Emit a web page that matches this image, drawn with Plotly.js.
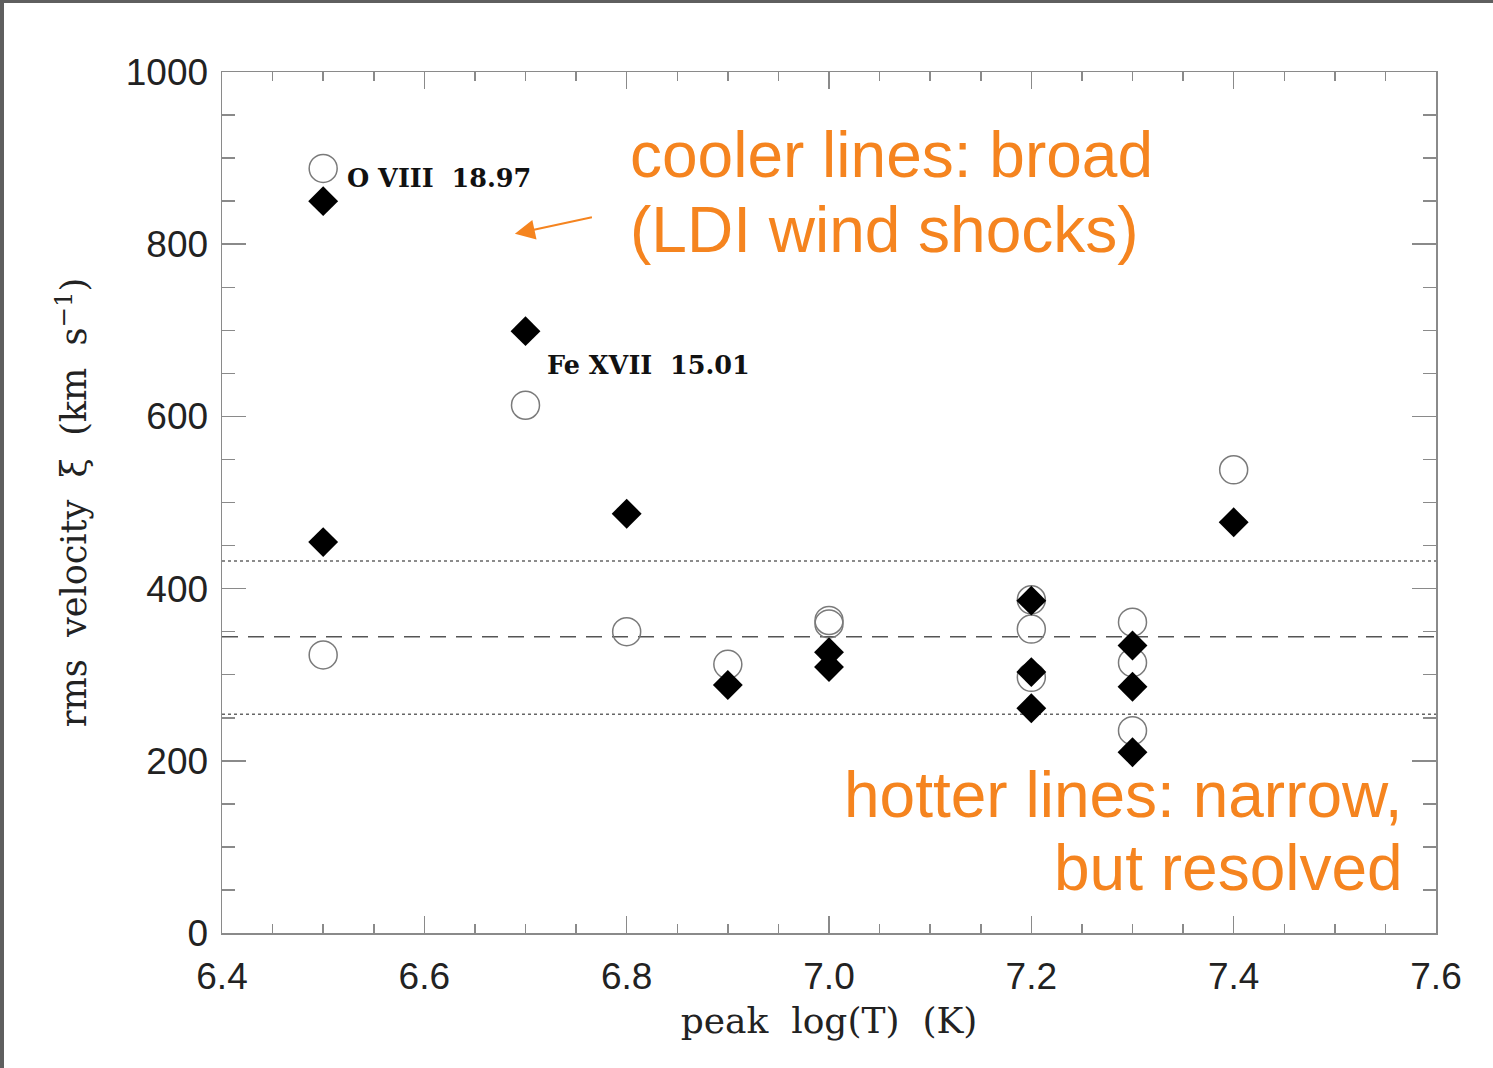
<!DOCTYPE html>
<html>
<head>
<meta charset="utf-8">
<script src="https://cdn.plot.ly/plotly-3.0.1.min.js"></script>
<style>
html,body{margin:0;padding:0;background:#fff;}
#wrap{position:relative;width:1493px;height:1068px;}
#chart{width:1493px;height:1068px;}
#frame{position:absolute;left:0;top:0;width:1493px;height:1068px;box-sizing:border-box;border-top:3px solid #5f5f5f;border-left:4px solid #5f5f5f;pointer-events:none;}
</style>
</head>
<body>
<div id="wrap"><div id="chart"></div><div id="frame"></div></div>
<script>
// Open circles
const circleT = [6.5, 6.5, 6.7, 6.8, 6.9, 7.0, 7.0, 7.2, 7.2, 7.2, 7.3, 7.3, 7.3, 7.4];
const circleV = [888, 323, 613, 350, 312, 363, 359, 387, 353, 297, 361, 314, 235, 538];
// Filled diamonds
const diamondT = [6.5, 6.5, 6.7, 6.8, 6.9, 7.0, 7.0, 7.2, 7.2, 7.2, 7.3, 7.3, 7.3, 7.4];
const diamondV = [850, 454, 699, 487, 288, 326, 309, 386, 303, 261, 334, 286, 210, 477];
// Reference levels
const meanV = 344;
const bandV = [254, 432];
// Axis tick labels
const xTicks = [6.4, 6.6, 6.8, 7.0, 7.2, 7.4, 7.6];
const xTickText = ['6.4', '6.6', '6.8', '7.0', '7.2', '7.4', '7.6'];
const yTicks = [0, 200, 400, 600, 800, 1000];

const axisColor = '#8a8a8a';
const orange = '#F5841F';

const traces = [
  {x: circleT, y: circleV, type: 'scatter', mode: 'markers',
   marker: {symbol: 'circle-open', size: 28, color: '#7a7a7a', line: {width: 1.5, color: '#7a7a7a'}},
   hoverinfo: 'x+y', showlegend: false},
  {x: diamondT, y: diamondV, type: 'scatter', mode: 'markers',
   marker: {symbol: 'diamond', size: 23, color: '#000', line: {width: 0}},
   hoverinfo: 'x+y', showlegend: false}
];

const shapes = [
  {type: 'line', xref: 'paper', x0: 0, x1: 1, yref: 'y', y0: meanV, y1: meanV,
   line: {color: '#555', width: 1.5, dash: '16px,10px'}, layer: 'below'},
  {type: 'line', xref: 'paper', x0: 0, x1: 1, yref: 'y', y0: bandV[0], y1: bandV[0],
   line: {color: '#666', width: 1.5, dash: 'dot'}, layer: 'below'},
  {type: 'line', xref: 'paper', x0: 0, x1: 1, yref: 'y', y0: bandV[1], y1: bandV[1],
   line: {color: '#666', width: 1.5, dash: 'dot'}, layer: 'below'}
];

const labelFont = {family: 'DejaVu Serif', size: 25.5, color: '#111'};
const bigFont = {family: 'Liberation Sans, Arial, sans-serif', size: 64, color: orange};
const annotations = [
  {x: 6.5215, y: 877, xref: 'x', yref: 'y', text: '<b>O VIII  18.97</b>', showarrow: false,
   xanchor: 'left', yanchor: 'middle', font: labelFont},
  {x: 6.719, y: 660, xref: 'x', yref: 'y', text: '<b>Fe XVII  15.01</b>', showarrow: false,
   xanchor: 'left', yanchor: 'middle', font: labelFont},
  {x: 6.6895, y: 812, xref: 'x', yref: 'y', ax: 6.7686, ay: 832, axref: 'x', ayref: 'y',
   text: ' ', showarrow: true, arrowhead: 2, arrowsize: 2, arrowwidth: 2, arrowcolor: orange},
  {x: 6.801, y: 904, xref: 'x', yref: 'y', text: 'cooler lines: broad', showarrow: false,
   xanchor: 'left', yanchor: 'middle', font: bigFont},
  {x: 6.801, y: 817, xref: 'x', yref: 'y', text: '(LDI wind shocks)', showarrow: false,
   xanchor: 'left', yanchor: 'middle', font: bigFont},
  {x: 7.569, y: 160, xref: 'x', yref: 'y', text: 'hotter lines: narrow,', showarrow: false,
   xanchor: 'right', yanchor: 'middle', font: bigFont},
  {x: 7.569, y: 76, xref: 'x', yref: 'y', text: 'but resolved', showarrow: false,
   xanchor: 'right', yanchor: 'middle', font: bigFont}
];

const tickFont = {family: 'Liberation Sans, Arial, sans-serif', size: 37, color: '#222'};
const titleFont = {family: 'DejaVu Serif', size: 35, color: '#222'};

const layout = {
  width: 1493, height: 1068,
  margin: {l: 222, r: 57, t: 72, b: 135, pad: 0},
  paper_bgcolor: '#fff', plot_bgcolor: '#fff',
  showlegend: false,
  xaxis: {
    range: [6.4, 7.6], tickvals: xTicks, ticktext: xTickText,
    ticks: 'inside', ticklen: 17, tickwidth: 1.5, tickcolor: axisColor,
    minor: {dtick: 0.05, tick0: 6.4, ticks: 'inside', ticklen: 9, tickwidth: 1.5, tickcolor: axisColor},
    showline: true, linecolor: axisColor, linewidth: 1.5, mirror: 'ticks',
    showgrid: false, zeroline: false,
    tickfont: tickFont, ticklabelstandoff: 10,
    title: {text: 'peak  log(T)  (K)', font: {family: 'DejaVu Serif', size: 36, color: '#222'}, standoff: 12}
  },
  yaxis: {
    range: [0, 1000], tickvals: yTicks,
    ticks: 'inside', ticklen: 24, tickwidth: 1.5, tickcolor: axisColor,
    minor: {dtick: 50, tick0: 0, ticks: 'inside', ticklen: 13, tickwidth: 1.5, tickcolor: axisColor},
    showline: true, linecolor: axisColor, linewidth: 1.5, mirror: 'ticks',
    showgrid: false, zeroline: false,
    tickfont: tickFont, ticklabelstandoff: 5,
    title: {text: 'rms  velocity  ξ  (km  s<sup>−1</sup>)', font: titleFont, standoff: 28}
  },
  shapes: shapes,
  annotations: annotations
};

Plotly.newPlot('chart', traces, layout, {displayModeBar: false, staticPlot: true});
</script>
</body>
</html>
